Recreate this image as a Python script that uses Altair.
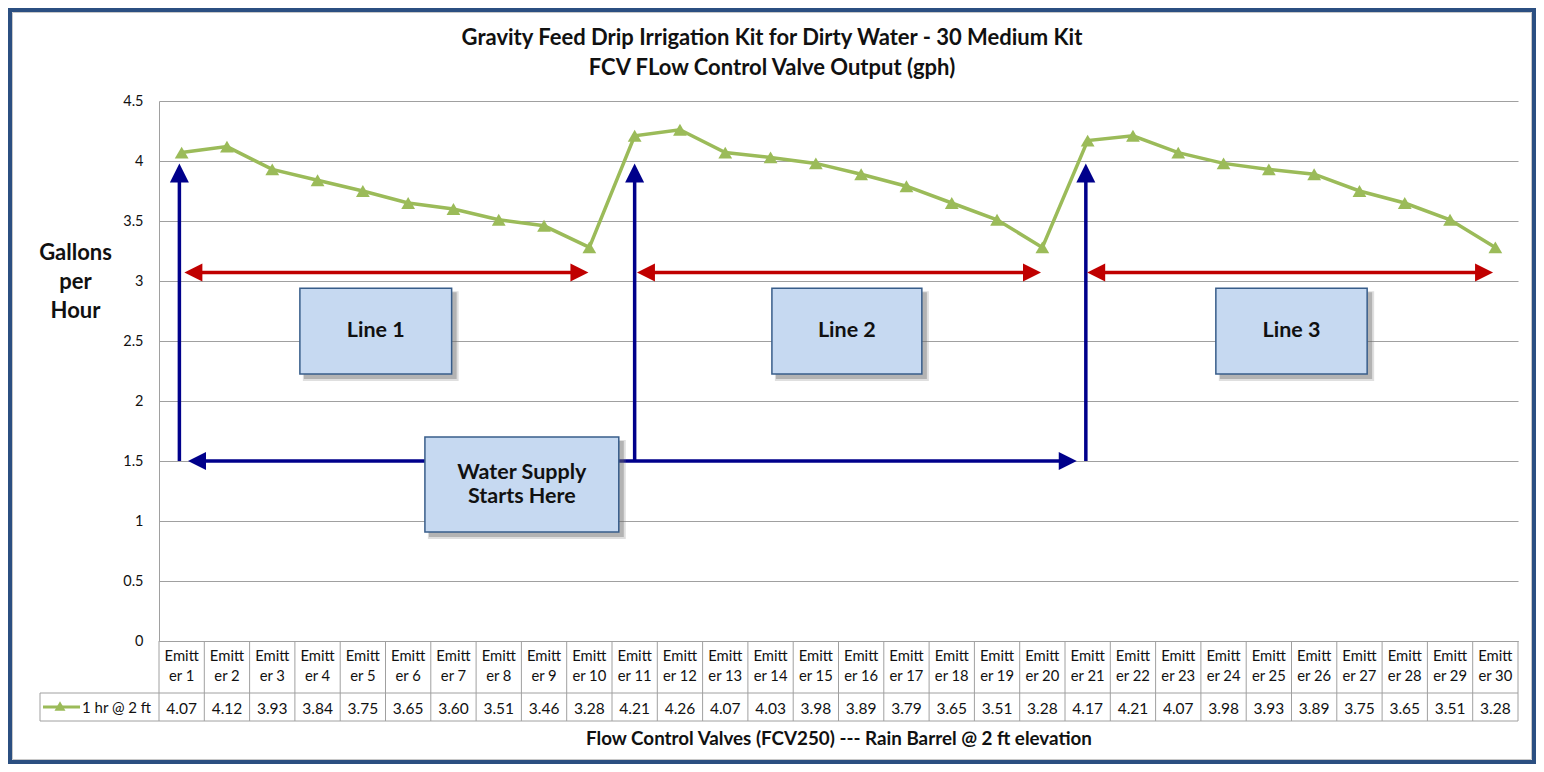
import altair as alt
import pandas as pd

# ---------------- data ----------------
emitters = [f"Emitter {i}" for i in range(1, 31)]
gph = [4.07, 4.12, 3.93, 3.84, 3.75, 3.65, 3.60, 3.51, 3.46, 3.28,
       4.21, 4.26, 4.07, 4.03, 3.98, 3.89, 3.79, 3.65, 3.51, 3.28,
       4.17, 4.21, 4.07, 3.98, 3.93, 3.89, 3.75, 3.65, 3.51, 3.28]
series_name = "1 hr @ 2 ft"
y_ticks = [0, 0.5, 1, 1.5, 2, 2.5, 3, 3.5, 4, 4.5]

title_lines = ["Gravity Feed Drip Irrigation Kit for Dirty Water - 30 Medium Kit",
               "FCV FLow Control Valve Output (gph)"]
y_title = ["Gallons", "per", "Hour"]
x_title = "Flow Control Valves (FCV250) --- Rain Barrel @ 2 ft elevation"

# annotation boxes (label, x-extent in emitter units, y-extent in gph)
box_labels = ["Line 1", "Line 2", "Line 3", "Water Supply\nStarts Here"]
box_x0 = [3.61, 14.03, 23.83, 6.37]
box_x1 = [6.96, 17.34, 27.17, 10.65]
box_y0 = [2.94, 2.94, 2.94, 1.70]
box_y1 = [2.225, 2.225, 2.225, 0.908]

# arrows
supply_x = [0.95, 11.0, 20.96]     # vertical supply arrows
supply_bottom = 1.5
supply_top = 3.98
supply_h = [1.14, 20.76]           # horizontal supply arrow (tips)
line_x0 = [1.06, 11.05, 20.99]     # red line-extent arrows
line_x1 = [9.98, 19.97, 29.95]
line_y = 3.07

# ---------------- styling ----------------
FONT = "Lato"
GREEN = "#9bbb59"
NAVY = "#00008b"
RED = "#c00000"
GRID = "#a0a0a0"
TXT = "#111111"
W, H = 1359, 540

df = pd.DataFrame({
    "idx": list(range(1, 31)),
    "emitter": emitters,
    "gph": gph,
})
df["head"] = [e[:5] + "\n" + e[5:] for e in emitters]
df["val"] = [f"{v:.2f}" for v in gph]

xs = alt.Scale(domain=[0.5, 30.5], nice=False, zero=False)
ys = alt.Scale(domain=[0, 4.5], nice=False, zero=True)

x_axis = alt.Axis(labels=False, ticks=False, grid=False, domain=True,
                  domainColor=GRID, domainWidth=1, title=x_title,
                  titleFont=FONT, titleFontSize=18.8, titleFontWeight="bold",
                  titleColor=TXT, titleY=97, titleBaseline="middle")
y_axis = alt.Axis(values=y_ticks, format="~g", grid=True, gridColor=GRID,
                  gridWidth=1, domain=True, domainColor=GRID, ticks=False,
                  labelPadding=16, labelFont=FONT, labelFontSize=14.5,
                  labelColor=TXT, title=y_title, titleFont=FONT,
                  titleFontSize=22, titleFontWeight="bold", titleColor=TXT,
                  titleAngle=0, titleAlign="center", titleBaseline="middle",
                  titleX=-84, titleY=151, titleLineHeight=29)

base = alt.Chart(df)

line = base.mark_line(color=GREEN, strokeWidth=3.5).encode(
    x=alt.X("idx:Q", scale=xs, axis=x_axis),
    y=alt.Y("gph:Q", scale=ys, axis=y_axis),
)
pts = base.mark_point(shape="triangle-up", filled=True, size=190,
                      color=GREEN, opacity=1).encode(
    x=alt.X("idx:Q", scale=xs), y=alt.Y("gph:Q", scale=ys))

# ---------------- data table ----------------
bounds = pd.DataFrame({"b": [k + 0.5 for k in range(31)]})
tbl_v = alt.Chart(bounds).mark_rule(color=GRID, strokeWidth=1).encode(
    x=alt.X("b:Q", scale=xs), y=alt.value(H), y2=alt.value(H + 80))
one = pd.DataFrame({"label": [series_name]})
tbl_h1 = alt.Chart(one).mark_rule(color=GRID, strokeWidth=1).encode(
    x=alt.value(-119), x2=alt.value(W), y=alt.value(H + 52))
tbl_h2 = alt.Chart(one).mark_rule(color=GRID, strokeWidth=1).encode(
    x=alt.value(-119), x2=alt.value(W), y=alt.value(H + 80))
tbl_l = alt.Chart(one).mark_rule(color=GRID, strokeWidth=1).encode(
    x=alt.value(-119), y=alt.value(H + 52), y2=alt.value(H + 80))
head_txt = base.mark_text(lineBreak="\n", font=FONT, fontSize=14.8,
                          lineHeight=20, baseline="middle", color=TXT).encode(
    x=alt.X("idx:Q", scale=xs), y=alt.value(H + 16), text="head:N")
val_txt = base.mark_text(font=FONT, fontSize=15.5, baseline="middle",
                         color=TXT).encode(
    x=alt.X("idx:Q", scale=xs), y=alt.value(H + 67.5), text="val:N")
leg_line = alt.Chart(one).mark_rule(color=GREEN, strokeWidth=3).encode(
    x=alt.value(-116), x2=alt.value(-79), y=alt.value(H + 66))
leg_pt = alt.Chart(one).mark_point(shape="triangle-up", filled=True, size=120,
                                   color=GREEN, opacity=1).encode(
    x=alt.value(-99), y=alt.value(H + 65))
leg_txt = alt.Chart(one).mark_text(font=FONT, fontSize=15, align="left",
                                   baseline="middle", color=TXT).encode(
    x=alt.value(-77), y=alt.value(H + 67), text="label:N")

# ---------------- arrows ----------------
up_head = "M0,0L-1,2L1,2Z"
left_head = "M0,0L2,-1L2,1Z"
right_head = "M0,0L-2,-1L-2,1Z"

sv = pd.DataFrame({"x": supply_x, "y0": [supply_bottom] * 3, "y1": [supply_top] * 3})
sv_shaft = alt.Chart(sv).mark_rule(color=NAVY, strokeWidth=3.5, y2Offset=12).encode(
    x=alt.X("x:Q", scale=xs), y=alt.Y("y0:Q", scale=ys), y2="y1:Q")
sv_head = alt.Chart(sv).mark_point(shape=up_head, filled=True, size=361,
                                   color=NAVY, opacity=1).encode(
    x=alt.X("x:Q", scale=xs), y=alt.Y("y1:Q", scale=ys))

sh = pd.DataFrame({"x0": [supply_h[0]], "x1": [supply_h[1]], "y": [supply_bottom]})
sh_shaft = alt.Chart(sh).mark_rule(color=NAVY, strokeWidth=3.5, xOffset=12,
                                   x2Offset=-12).encode(
    x=alt.X("x0:Q", scale=xs), x2="x1:Q", y=alt.Y("y:Q", scale=ys))
sh_l = alt.Chart(sh).mark_point(shape=left_head, filled=True, size=324,
                                color=NAVY, opacity=1).encode(
    x=alt.X("x0:Q", scale=xs), y=alt.Y("y:Q", scale=ys))
sh_r = alt.Chart(sh).mark_point(shape=right_head, filled=True, size=324,
                                color=NAVY, opacity=1).encode(
    x=alt.X("x1:Q", scale=xs), y=alt.Y("y:Q", scale=ys))

ra = pd.DataFrame({"x0": line_x0, "x1": line_x1, "y": [line_y] * 3})
ra_shaft = alt.Chart(ra).mark_rule(color=RED, strokeWidth=3.5, xOffset=12,
                                   x2Offset=-12).encode(
    x=alt.X("x0:Q", scale=xs), x2="x1:Q", y=alt.Y("y:Q", scale=ys))
ra_l = alt.Chart(ra).mark_point(shape=left_head, filled=True, size=324,
                                color=RED, opacity=1).encode(
    x=alt.X("x0:Q", scale=xs), y=alt.Y("y:Q", scale=ys))
ra_r = alt.Chart(ra).mark_point(shape=right_head, filled=True, size=324,
                                color=RED, opacity=1).encode(
    x=alt.X("x1:Q", scale=xs), y=alt.Y("y:Q", scale=ys))

# ---------------- boxes ----------------
bx = pd.DataFrame({"label": box_labels, "x0": box_x0, "x1": box_x1,
                   "y0": box_y0, "y1": box_y1})
bbase = alt.Chart(bx)
shadow1 = bbase.mark_rect(color="#808080", opacity=0.25, xOffset=3, x2Offset=7,
                          yOffset=3, y2Offset=7).encode(
    x=alt.X("x0:Q", scale=xs), x2="x1:Q", y=alt.Y("y0:Q", scale=ys), y2="y1:Q")
shadow2 = bbase.mark_rect(color="#606060", opacity=0.35, xOffset=4, x2Offset=5,
                          yOffset=4, y2Offset=5).encode(
    x=alt.X("x0:Q", scale=xs), x2="x1:Q", y=alt.Y("y0:Q", scale=ys), y2="y1:Q")
boxes = bbase.mark_rect(fill="#c6d9f1", stroke="#385d8a", strokeWidth=1.5,
                        opacity=1).encode(
    x=alt.X("x0:Q", scale=xs), x2="x1:Q", y=alt.Y("y0:Q", scale=ys), y2="y1:Q")
box_txt = bbase.transform_calculate(
    xc="(datum.x0 + datum.x1) / 2",
    yc="(datum.y0 + datum.y1) / 2 + (length(split(datum.label, '\\n')) - 1) * 0.1",
).mark_text(font=FONT, fontSize=21.5, fontWeight="bold", lineBreak="\n",
            lineHeight=24, baseline="middle", color=TXT).encode(
    x=alt.X("xc:Q", scale=xs), y=alt.Y("yc:Q", scale=ys), text="label:N")

# ---------------- title & frame ----------------
tdf = pd.DataFrame({"t": ["\n".join(title_lines)]})
title = alt.Chart(tdf).mark_text(font=FONT, fontSize=22, fontWeight="bold",
                                 lineBreak="\n", lineHeight=30,
                                 baseline="middle", color=TXT).encode(
    x=alt.value(613), y=alt.value(-63), text="t:N")
frame = alt.Chart(one).mark_rect(fillOpacity=0, stroke="#2b4f81",
                                 strokeWidth=4).encode(
    x=alt.value(-149), x2=alt.value(1375), y=alt.value(-91), y2=alt.value(661))
frame2 = alt.Chart(one).mark_rect(fillOpacity=0, stroke="#c8c8c8",
                                  strokeWidth=1).encode(
    x=alt.value(-146.5), x2=alt.value(1372.5), y=alt.value(-88.5),
    y2=alt.value(658.5))

chart = alt.layer(
    line, tbl_v, tbl_h1, tbl_h2, tbl_l, head_txt, val_txt,
    leg_line, leg_pt, leg_txt,
    sv_shaft, sh_shaft, ra_shaft, sv_head, sh_l, sh_r, ra_l, ra_r,
    pts, shadow1, shadow2, boxes, box_txt, title, frame, frame2,
).properties(
    width=W, height=H,
    padding={"left": 151, "top": 93, "right": 18, "bottom": 123},
    autosize=alt.AutoSizeParams(type="none"),
    background="white",
).configure_view(strokeWidth=0)

chart.save("out.html", embed_options={"renderer": "svg", "actions": False})
